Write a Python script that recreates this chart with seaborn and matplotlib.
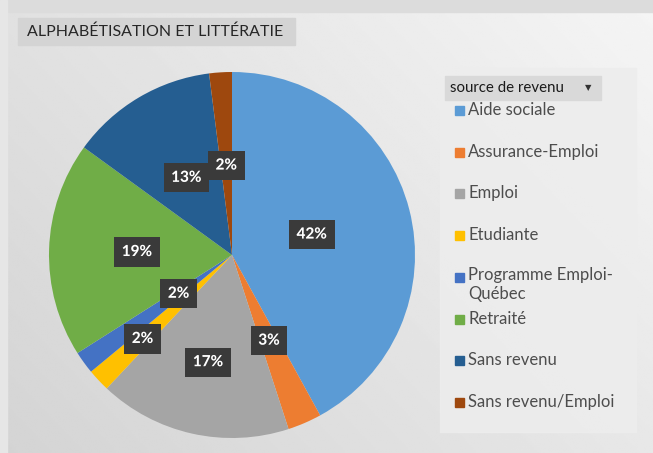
import numpy as np
import matplotlib
matplotlib.use('Agg')
import matplotlib.pyplot as plt
import matplotlib.patheffects as pe
from matplotlib.patches import Rectangle
import seaborn as sns

# Data
categories = ['Aide sociale', 'Assurance-Emploi', 'Emploi', 'Etudiante',
              'Programme Emploi-\nQuébec', 'Retraité', 'Sans revenu',
              'Sans revenu/Emploi']
values = [42, 3, 17, 2, 2, 19, 13, 2]
pct_labels = ['42%', '3%', '17%', '2%', '2%', '19%', '13%', '2%']
title = 'ALPHABÉTISATION ET LITTÉRATIE'
legend_title = 'source de revenu'

# Excel-like palette
colors = sns.color_palette(['#5B9BD5', '#ED7D31', '#A5A5A5', '#FFC000',
                            '#4472C4', '#70AD47', '#255E91', '#9E480E'])

sns.set_theme(style='white')
plt.rcParams['font.family'] = ['Lato', 'DejaVu Sans']

W, H = 653, 453
fig = plt.figure(figsize=(W / 100, H / 100), dpi=100)

# background gradient
bg = fig.add_axes([0, 0, 1, 1])
yy, xx = np.mgrid[0:1:200j, 0:1:300j]
grad = 0.83 + 0.13 * (0.6 * xx + 0.4 * yy)
bg.imshow(grad, cmap='gray', vmin=0, vmax=1, aspect='auto',
          extent=[0, 1, 0, 1], origin='lower')
bg.add_patch(Rectangle((0, 1 - 12 / H), 1, 12 / H, color='#dcdcdc'))
bg.add_patch(Rectangle((0, 0), 7 / W, 1, color='#e6e6e6'))
# legend panel
bg.add_patch(Rectangle((440 / W, 1 - 432 / H), 196 / W, 364 / H,
                       color='#ededed', alpha=0.85))
# title box
bg.add_patch(Rectangle((18 / W, 1 - 45 / H), 277 / W, 27 / H, color='#d4d4d4'))
bg.text(27 / W, 1 - 32 / H, title, fontsize=11.5, color='#262626',
        va='center', ha='left')
# legend header
bg.add_patch(Rectangle((445 / W, 1 - 100 / H), 156 / W, 24 / H, color='#d9d9d9'))
bg.text(450 / W, 1 - 88 / H, legend_title, fontsize=10.8, color='#1a1a1a',
        va='center', ha='left')
bg.text(588 / W, 1 - 88 / H, '▼', fontsize=6, color='#333333',
        va='center', ha='center', family='DejaVu Sans')
bg.set_xlim(0, 1)
bg.set_ylim(0, 1)
bg.axis('off')

# legend entries
for i, (cat, col) in enumerate(zip(categories, colors)):
    y = 110 + i * 41.7
    bg.add_patch(Rectangle((455 / W, 1 - (y + 5) / H), 9 / W, 9 / H, color=col))
    if '\n' in cat:
        bg.text(468 / W, 1 - (y - 10) / H, cat, fontsize=12, color='#4d4d4d',
                va='top', ha='left', linespacing=1.25)
    else:
        bg.text(468 / W, 1 - y / H, cat, fontsize=12, color='#4d4d4d',
                va='center', ha='left')

# pie
cx, cy, r = 232, 255, 183
ax = fig.add_axes([(cx - r) / W, (H - cy - r) / H, 2 * r / W, 2 * r / H])
wedges, _ = ax.pie(values, colors=colors, startangle=90, counterclock=False,
                   radius=1, wedgeprops=dict(linewidth=0))
ax.set_xlim(-1, 1)
ax.set_ylim(-1, 1)
ax.set_aspect('equal')
ax.axis('off')

label_dist = [0.45, 0.51, 0.6, 0.67, 0.36, 0.52, 0.49, 0.49]
for w, lab, d in zip(wedges, pct_labels, label_dist):
    ang = np.deg2rad((w.theta1 + w.theta2) / 2)
    ax.text(d * np.cos(ang), d * np.sin(ang), lab, ha='center', va='center',
            fontsize=11, fontweight='bold', color='white',
            bbox=dict(boxstyle='square,pad=0.5', fc='#3a3a3a', ec='none'),
            path_effects=[pe.withStroke(linewidth=0.5, foreground='#3a3a3a')])

fig.savefig('out.png', dpi=100)
